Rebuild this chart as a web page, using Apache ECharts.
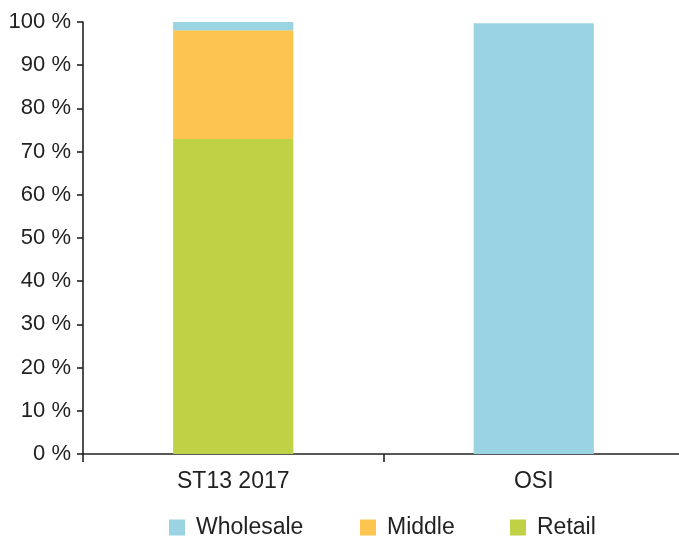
<!DOCTYPE html>
<html><head><meta charset="utf-8">
<script src="https://cdn.jsdelivr.net/npm/echarts@6/dist/echarts.min.js"></script>
<style>html,body{margin:0;padding:0;background:#fff;overflow:hidden}#c{width:690px;height:536px}</style>
</head><body><div id="c"></div>
<script>
const categories = ["ST13 2017", "OSI"];
const retail = [72.9, 0];
const middle = [25.2, 0];
const wholesale = [1.9, 99.7];
const yTicks = [0, 10, 20, 30, 40, 50, 60, 70, 80, 90, 100];
const legendNames = ['Wholesale', 'Middle', 'Retail'];
const legendLefts = [169, 360, 510];

const font = '"Liberation Sans", Arial, sans-serif';
const chart = echarts.init(document.getElementById('c'));
chart.setOption({
  animation: false,
  textStyle: {fontFamily: font},
  grid: {left: 83, top: 22, width: 601, height: 432, containLabel: false},
  legend: legendNames.map((n, i) => ({
    data: [n], left: legendLefts[i], top: 516, itemWidth: 16, itemHeight: 16,
    icon: 'rect', padding: 0,
    textStyle: {fontSize: 23, color: '#222', fontFamily: font, padding: [0, 0, 0, 6]}
  })),
  xAxis: {
    type: 'category', data: categories,
    axisLine: {lineStyle: {color: '#222', width: 1.6}},
    axisTick: {show: true, length: 8, lineStyle: {color: '#222', width: 1.6}},
    axisLabel: {fontSize: 23, color: '#222', margin: 16, fontFamily: font}
  },
  yAxis: {
    type: 'value', min: 0, max: 100, interval: 10,
    splitLine: {show: false},
    axisLine: {show: true, lineStyle: {color: '#222', width: 1.6}},
    axisTick: {show: true, length: 6, lineStyle: {color: '#222', width: 1.6}},
    axisLabel: {fontSize: 22, color: '#222', margin: 12, fontFamily: font,
      formatter: v => yTicks.includes(v) ? v + ' %' : ''}
  },
  series: [
    {name: 'Retail', type: 'bar', stack: 's', data: retail, barWidth: '40%', itemStyle: {color: '#BFD145'}},
    {name: 'Middle', type: 'bar', stack: 's', data: middle, barWidth: '40%', itemStyle: {color: '#FCC550'}},
    {name: 'Wholesale', type: 'bar', stack: 's', data: wholesale, barWidth: '40%', itemStyle: {color: '#9AD4E3'}}
  ]
});
</script></body></html>
